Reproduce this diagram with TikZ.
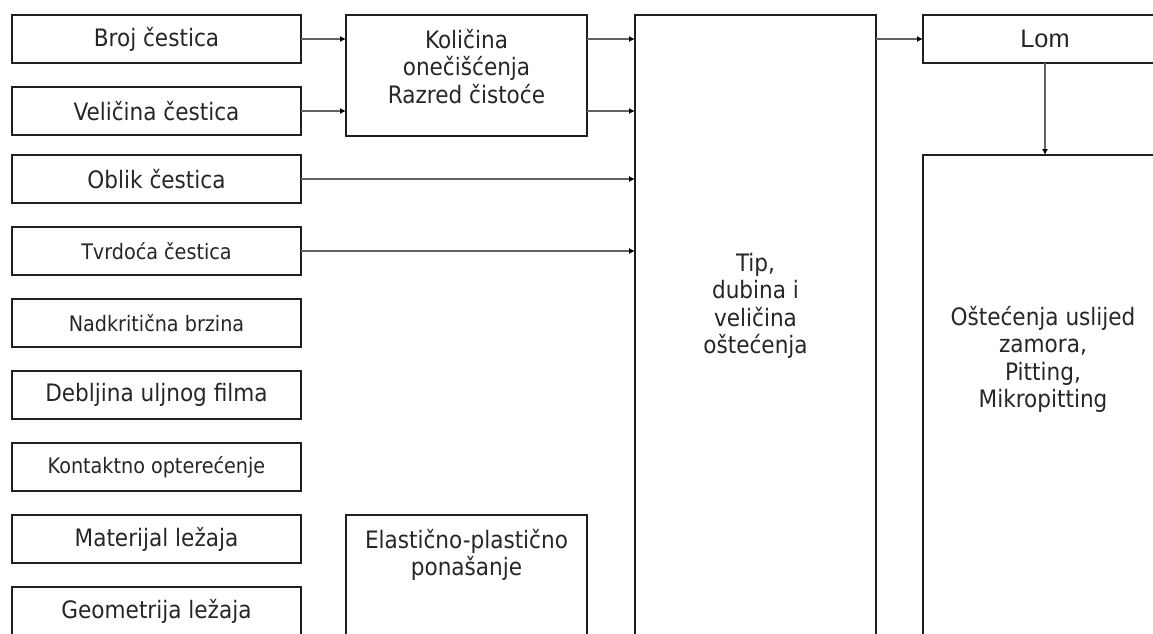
\documentclass[tikz,border=0pt]{standalone}
\usepackage{fontspec}
\setmainfont{DejaVu Sans Condensed}
\newfontfamily\lomfont{Liberation Sans}
\usetikzlibrary{arrows.meta, positioning}

\begin{document}
\begin{tikzpicture}[
  x=0.75pt, y=-0.75pt,
  node distance=18pt,
  every node/.style={font=\fontsize{18}{20.5}\selectfont, text=black!85},
  factor/.style={draw=black!88, line width=1.2pt, minimum width=216.75pt, minimum height=36pt, inner sep=0pt, outer sep=0pt},
  small/.style={font=\fontsize{16}{19}\selectfont},
  block/.style={draw=black!88, line width=1.2pt, inner sep=0pt, outer sep=0pt, anchor=north west},
  blocktext/.style={align=center, inner sep=0pt, anchor=north},
  arrow/.style={draw=black!62, line width=1.5pt, -{Latex[length=4.5pt,width=4.5pt,color=black]}}
]
\useasboundingbox (0,0) rectangle (1153,633);
\clip (0,0) rectangle (1153,633);

% Left column of influencing factors
\node[factor] (broj) at (156.5,39) {Broj čestica};
\node[factor, below=of broj] (velicina) {Veličina čestica};
\node[factor, below=15pt of velicina] (oblik) {Oblik čestica};
\node[factor, small, below=of oblik] (tvrdoca) {Tvrdoća čestica};
\node[factor, small, below=of tvrdoca] (brzina) {Nadkritična brzina};
\node[factor, below=of brzina] (film) {Debljina uljnog filma};
\node[factor, small, below=of film] (opterecenje) {Kontaktno opterećenje};
\node[factor, below=of opterecenje] (materijal) {Materijal ležaja};
\node[factor, below=of materijal] (geometrija) {Geometrija ležaja};

% Middle and right blocks (cut off by the frame)
\node[block, minimum width=180.75pt, minimum height=90.75pt] (kolicina) at (346,15) {};
\node[blocktext] (kolicinatext) at (466.5,29) {Količina\\onečišćenja\\Razred čistoće};
\node[block, minimum width=180.75pt, minimum height=150pt] (elasticno) at (346,515) {};
\node[blocktext] (elasticnotext) at (466.5,529) {Elastično-plastično\\ponašanje};
\node[block, minimum width=180.75pt, minimum height=525pt] (tip) at (635,15) {};
\node[blocktext] (tiptext) at (755.5,253) {Tip,\\dubina i\\veličina\\oštećenja};
\node[block, minimum width=183pt, minimum height=36pt, font=\lomfont\fontsize{19}{22}\selectfont] (lom) at (923,15) {Lom};
\node[block, minimum width=183pt, minimum height=450pt] (ostecenja) at (923,155) {};
\node[blocktext] (ostecenjatext) at (1043,306) {Oštećenja uslijed\\zamora,\\Pitting,\\Mikropitting};

% Arrows
\draw[arrow] (broj) -- (broj -| kolicina.west);
\draw[arrow] (velicina) -- (velicina -| kolicina.west);
\draw[arrow] (kolicina.east |- broj) -- (tip.west |- broj);
\draw[arrow] (kolicina.east |- velicina) -- (tip.west |- velicina);
\draw[arrow] (oblik) -- (oblik -| tip.west);
\draw[arrow] (tvrdoca) -- (tvrdoca -| tip.west);
\draw[arrow] (tip.east |- lom) -- (lom.west);
\draw[arrow] (lom) -- (lom |- ostecenja.north);
\end{tikzpicture}
\end{document}
